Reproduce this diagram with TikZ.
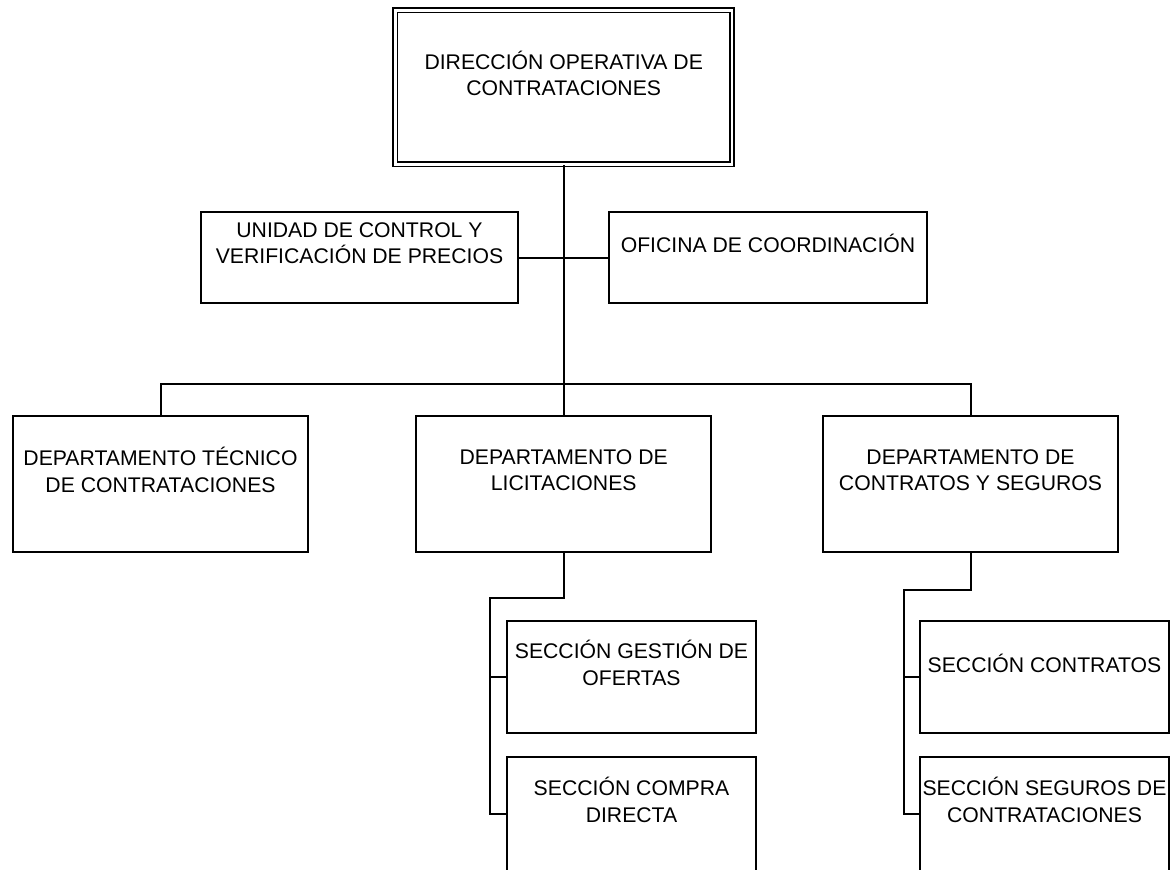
\documentclass[tikz,border=0pt]{standalone}
\usepackage{fontspec}
\setmainfont{Liberation Sans}
\usetikzlibrary{positioning}

\tikzset{
    orgbox/.style={draw, line width=1.2pt, inner sep=0pt},
    topbox/.style={draw, double, line width=1.2pt, double distance=2.1pt,
                   minimum width=252.5pt, minimum height=115.65pt, inner sep=0pt},
    sidebox/.style={orgbox, minimum height=68.25pt},
    depbox/.style={orgbox, minimum width=221.25pt, minimum height=102pt},
    secbox/.style={orgbox, minimum width=186.75pt, minimum height=84pt},
    caption/.style={font=\fontsize{15.9}{19.8}\selectfont, align=center,
                    inner sep=0pt, yshift=10.5pt},
    link/.style={line width=1.5pt}
}

\begin{document}
\begin{tikzpicture}[x=0.75pt, y=-0.75pt]

    \useasboundingbox (0,0) rectangle (1170,870);

    % head
    \node[topbox, label={[caption]center:{DIRECCIÓN OPERATIVA DE\\CONTRATACIONES}}] (dir) at (563.7,87.4) {};

    % staff units
    \node[sidebox, minimum width=237.75pt, label={[caption]center:{UNIDAD DE CONTROL Y\\VERIFICACIÓN DE PRECIOS}}] (unit) at (359.5,257.5) {};
    \node[sidebox, minimum width=238.5pt, label={[caption]center:{OFICINA DE COORDINACIÓN}}] (ofi) at (768,257.5) {};

    % departments
    \node[depbox, label={[caption]center:{DEPARTAMENTO TÉCNICO\\DE CONTRATACIONES}}] (dtec) at (160.5,484) {};
    \node[depbox, label={[caption]center:{DEPARTAMENTO DE\\LICITACIONES}}] (dlic) at (563.7,484) {};
    \node[depbox, label={[caption]center:{DEPARTAMENTO DE\\CONTRATOS Y SEGUROS}}] (dcon) at (970.5,484) {};

    % sections
    \node[secbox, label={[caption]center:{SECCIÓN GESTIÓN DE\\OFERTAS}}] (sges) at (631.5,677) {};
    \node[secbox, minimum height=85.5pt, label={[caption]center:{SECCIÓN COMPRA\\DIRECTA}}] (scom) at (631.5,814) {};
    \node[secbox, label={[caption]center:{SECCIÓN CONTRATOS}}] (scont) at (1044.5,677) {};
    \node[secbox, minimum height=85.5pt, label={[caption]center:{SECCIÓN SEGUROS DE\\CONTRATACIONES}}] (sseg) at (1044.5,814) {};

    % forks
    \coordinate (bar) at (563.7,384);
    \coordinate (licfork) at (490,598);
    \coordinate (confork) at (904,590);

    % connectors
    \begin{scope}[link]
        \draw (dir.south) -- (dlic.north);
        \draw (unit.east) -- (ofi.west);
        \draw (dtec.north) |- (bar) -| (dcon.north);
        \draw (dlic.south) |- (licfork) |- (scom.west);
        \draw (licfork |- sges.west) -- (sges.west);
        \draw (dcon.south) |- (confork) |- (sseg.west);
        \draw (confork |- scont.west) -- (scont.west);
    \end{scope}

\end{tikzpicture}
\end{document}
